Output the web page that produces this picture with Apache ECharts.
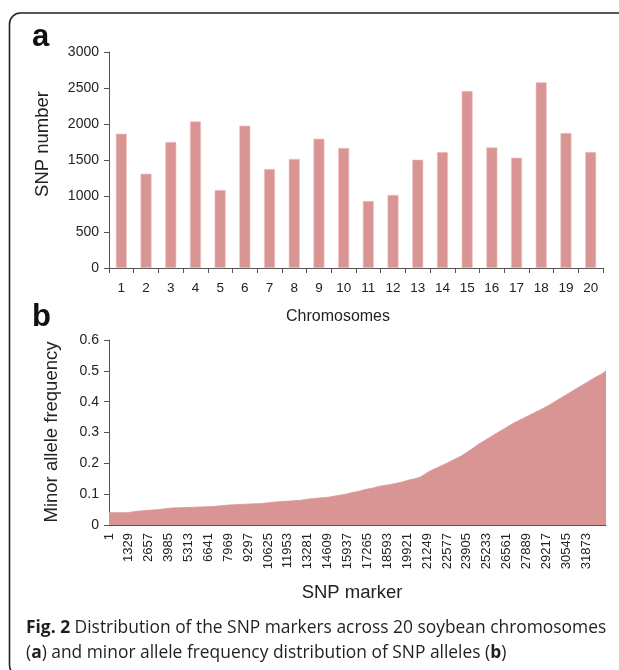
<!DOCTYPE html>
<html>
<head>
<meta charset="utf-8">
<script src="https://cdn.jsdelivr.net/npm/echarts@6/dist/echarts.min.js"></script>
<style>
html,body{margin:0;padding:0;background:#fff;}
#chart{width:619px;height:670px;}
</style>
</head>
<body>
<div id="chart"></div>
<script>
// Panel a: SNP count per chromosome
const chromosomes = ['1','2','3','4','5','6','7','8','9','10','11','12','13','14','15','16','17','18','19','20'];
const snpCounts = [1866,1310,1750,2037,1083,1977,1375,1514,1796,1667,931,1014,1505,1611,2458,1676,1532,2579,1875,1611];

// Panel b: sorted minor allele frequency, stepwise (level and marker index where it starts)
const mafLevels = [0.040,0.045,0.050,0.055,0.060,0.065,0.070,0.075,0.080,0.085,0.090,0.095,0.100,0.105,0.110,0.115,0.120,0.125,0.130,0.135,0.140,0.145,0.150,0.155,0.160,0.165,0.170,0.175,0.180,0.185,0.190,0.195,0.200,0.205,0.210,0.215,0.220,0.225,0.230,0.235,0.240,0.245,0.250,0.255,0.260,0.265,0.270,0.275,0.280,0.285,0.290,0.295,0.300,0.305,0.310,0.315,0.320,0.325,0.330,0.335,0.340,0.345,0.350,0.355,0.360,0.365,0.370,0.375,0.380,0.385,0.390,0.395,0.400,0.405,0.410,0.415,0.420,0.425,0.430,0.435,0.440,0.445,0.450,0.455,0.460,0.465,0.470,0.475,0.480,0.485,0.490,0.495,0.500];
const stepStart = [1,1183,1918,3294,4188,6927,8083,10220,11156,12759,13474,14649,15210,15832,16212,16767,17101,17655,17989,18617,19172,19639,19973,20441,20775,20942,21109,21276,21443,21663,21890,22111,22331,22558,22759,22959,23166,23367,23567,23741,23888,24042,24188,24335,24483,24636,24783,24956,25123,25297,25471,25638,25812,25979,26153,26326,26493,26667,26841,27008,27215,27422,27628,27835,28042,28250,28450,28657,28864,29071,29272,29446,29612,29786,29953,30127,30294,30461,30634,30808,30975,31149,31323,31497,31670,31837,32011,32185,32359,32525,32719,32926,33067];
const lastMarker = 33201;
const markerTickLabels = [1,1329,2657,3985,5313,6641,7969,9297,10625,11953,13281,14609,15937,17265,18593,19921,21249,22577,23905,25233,26561,27889,29217,30545,31873];

const mafData = stepStart.map((m, i) => [m, mafLevels[i]]);
mafData.push([lastMarker, mafLevels[mafLevels.length - 1]]);

const FONT = "'Liberation Sans', Arial, sans-serif";
const TXT = '#222';
const AX = '#555';
const BAR = '#d99594';
const plain = v => String(v);

const chart = echarts.init(document.getElementById('chart'), null, {renderer: 'canvas'});
chart.setOption({
  animation: false,
  backgroundColor: '#fff',
  textStyle: {fontFamily: FONT},
  grid: [
    {left: 109, right: 16, top: 52, bottom: 402},
    {left: 109, right: 13, top: 340, bottom: 145}
  ],
  xAxis: [
    {
      gridIndex: 0, type: 'category', data: chromosomes,
      axisLine: {lineStyle: {color: AX, width: 1}},
      axisTick: {show: true, length: 5, lineStyle: {color: AX}},
      axisLabel: {color: TXT, fontSize: 13.5, margin: 13, fontFamily: FONT, interval: 0},
      splitLine: {show: false}
    },
    {
      gridIndex: 1, type: 'value', min: 1, max: lastMarker,
      axisLine: {lineStyle: {color: AX, width: 1}},
      axisTick: {show: false},
      axisLabel: {color: TXT, fontSize: 13, rotate: 90, margin: 8, fontFamily: FONT,
        customValues: markerTickLabels, formatter: plain, hideOverlap: false,
        showMinLabel: true, showMaxLabel: true},
      splitLine: {show: false}
    }
  ],
  yAxis: [
    {
      gridIndex: 0, type: 'value', min: 0, max: 3000, interval: 500,
      axisLine: {show: true, lineStyle: {color: AX, width: 1}},
      axisTick: {show: true, length: 5, lineStyle: {color: AX}},
      axisLabel: {color: TXT, fontSize: 14, margin: 10, fontFamily: FONT, formatter: plain},
      splitLine: {show: false}
    },
    {
      gridIndex: 1, type: 'value', min: 0, max: 0.6, interval: 0.1,
      axisLine: {show: true, lineStyle: {color: AX, width: 1}},
      axisTick: {show: true, length: 5, lineStyle: {color: AX}},
      axisLabel: {color: TXT, fontSize: 14, margin: 10, fontFamily: FONT},
      splitLine: {show: false}
    }
  ],
  series: [
    {
      type: 'bar', xAxisIndex: 0, yAxisIndex: 0, data: snpCounts,
      barWidth: 11, itemStyle: {color: BAR, borderColor: '#f2c4c4', borderWidth: 0.6}
    },
    {
      type: 'line', xAxisIndex: 1, yAxisIndex: 1, data: mafData,
      step: 'end', symbol: 'none',
      lineStyle: {width: 0.8, color: BAR},
      areaStyle: {color: BAR, opacity: 1}
    }
  ],
  graphic: [
    {type: 'rect', shape: {x: 9.5, y: 13, width: 660, height: 663, r: 11},
      style: {fill: 'none', stroke: '#222', lineWidth: 1.6}, z: 100},
    {type: 'text', x: 32, y: 22, style: {text: 'a', font: 'bold 31px ' + FONT, fill: '#111'}},
    {type: 'text', x: 32, y: 302, style: {text: 'b', font: 'bold 31px ' + FONT, fill: '#111'}},
    {type: 'text', x: 43, y: 144, rotation: Math.PI / 2,
      style: {text: 'SNP number', font: '18.5px ' + FONT, fill: TXT, align: 'center', verticalAlign: 'middle'}},
    {type: 'text', x: 338, y: 317,
      style: {text: 'Chromosomes', font: '16px ' + FONT, fill: TXT, align: 'center', verticalAlign: 'middle'}},
    {type: 'text', x: 52, y: 432, rotation: Math.PI / 2,
      style: {text: 'Minor allele frequency', font: '18.5px ' + FONT, fill: TXT, align: 'center', verticalAlign: 'middle'}},
    {type: 'text', x: 352, y: 593,
      style: {text: 'SNP marker', font: '18.5px ' + FONT, fill: TXT, align: 'center', verticalAlign: 'middle'}},
    {type: 'text', x: 26, y: 616,
      style: {
        text: '{b|Fig. 2} Distribution of the SNP markers across 20 soybean chromosomes\n({b|a}) and minor allele frequency distribution of SNP alleles ({b|b})',
        font: "17.4px 'Open Sans'", fill: '#231f20', lineHeight: 25,
        rich: {b: {fontFamily: 'Open Sans', fontWeight: 'bold', fontSize: 17.4, fill: '#231f20', lineHeight: 25}}
      }}
  ]
});
</script>
</body>
</html>
